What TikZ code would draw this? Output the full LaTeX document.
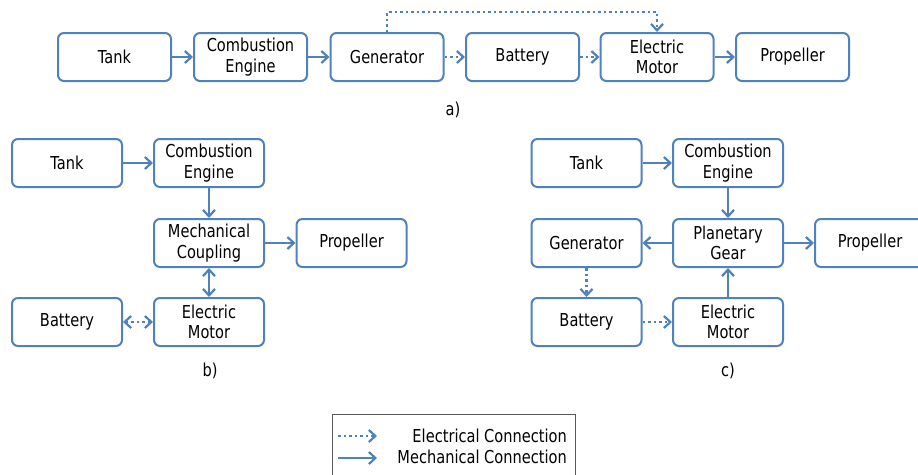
\documentclass[tikz,border=0pt]{standalone}
\usepackage{fontspec}
\setmainfont{DejaVu Sans}[FakeStretch=0.82]
\usetikzlibrary{arrows.meta}
\definecolor{blueC}{HTML}{4F81BD}
\definecolor{legC}{HTML}{595959}
\begin{document}
\begin{tikzpicture}[x=1pt,y=-1pt,
  font=\fontsize{17.8}{20.5}\selectfont,
  boxa/.style={draw=blueC, line width=2pt, rounded corners=6pt, minimum width=113pt, minimum height=48pt, align=center, inner sep=0pt, text=black},
  boxb/.style={boxa, minimum width=110pt},
  mech/.style={draw=blueC, line width=2.2pt, -{Straight Barb[length=6.5pt,width=12pt,line width=2.2pt]}},
  mechboth/.style={draw=blueC, line width=2.2pt, {Straight Barb[length=6.5pt,width=12pt,line width=2.2pt]}-{Straight Barb[length=6.5pt,width=12pt,line width=2.2pt]}},
  elec/.style={mech, dash pattern=on 2.5pt off 3pt},
  elecboth/.style={mechboth, dash pattern=on 2.5pt off 3pt},
  lbl/.style={inner sep=0pt}
]
\useasboundingbox (0,0) rectangle (918,474);
\begin{scope}
\clip (0,0) rectangle (918,474);
% ---- a)
\node[boxa] (a1) at (114.5,57) {Tank};
\node[boxa] (a2) at (250.5,57) {Combustion\\Engine};
\node[boxa] (a3) at (387,57) {Generator};
\node[boxa] (a4) at (522.5,57) {Battery};
\node[boxa] (a5) at (657,57) {Electric\\Motor};
\node[boxa] (a6) at (792.5,57) {Propeller};
\draw[mech] (a1.east) -- (a2.west);
\draw[mech] (a2.east) -- (a3.west);
\draw[elec] (a3.east) -- (a4.west);
\draw[elec] (a4.east) -- (a5.west);
\draw[mech] (a5.east) -- (a6.west);
\coordinate (atop) at (387,12);
\draw[elec] (a3.north) -- (atop) -| (a5.north);
\node[lbl] (la) at (453,110) {a)};
% ---- b)
\node[boxb] (b1) at (67,163) {Tank};
\node[boxb] (b2) at (209,163) {Combustion\\Engine};
\node[boxb] (b3) at (209,243) {Mechanical\\Coupling};
\node[boxb] (b4) at (351.5,243) {Propeller};
\node[boxb] (b5) at (67,322) {Battery};
\node[boxb] (b6) at (209,322) {Electric\\Motor};
\draw[mech] (b1.east) -- (b2.west);
\draw[mech] (b2.south) -- (b3.north);
\draw[mech] (b3.east) -- (b4.west);
\draw[mechboth] (b3.south) -- (b6.north);
\draw[elecboth] (b5.east) -- (b6.west);
\node[lbl] (lb) at (210,371) {b)};
% ---- c)
\node[boxb] (c1) at (586.5,163) {Tank};
\node[boxb] (c2) at (728,163) {Combustion\\Engine};
\node[boxb] (c3) at (728,243) {Planetary\\Gear};
\node[boxb] (c4) at (586.5,243) {Generator};
\node[boxb] (c5) at (870,243) {Propeller};
\node[boxb] (c6) at (586.5,322) {Battery};
\node[boxb] (c7) at (728,322) {Electric\\Motor};
\draw[mech] (c1.east) -- (c2.west);
\draw[mech] (c2.south) -- (c3.north);
\draw[mech] (c3.west) -- (c4.east);
\draw[mech] (c3.east) -- (c5.west);
\draw[mech] (c7.north) -- (c3.south);
\draw[elec] (c4.south) -- (c6.north);
\draw[elec] (c6.east) -- (c7.west);
\node[lbl] (lc) at (728,371) {c)};
% ---- legend
\draw[legC, line width=1pt] (332,480) -- (332,414.5) -- (575,414.5) -- (575,480);
\coordinate (l1s) at (338,436);
\coordinate (l1e) at (377,436);
\coordinate (l2s) at (338,458);
\coordinate (l2e) at (377,458);
\draw[elec] (l1s) -- (l1e);
\draw[mech] (l2s) -- (l2e);
\node[lbl, anchor=east] (t1) at (567,436) {Electrical Connection};
\node[lbl, anchor=east] (t2) at (567,457) {Mechanical Connection};
\end{scope}
\end{tikzpicture}
\end{document}
